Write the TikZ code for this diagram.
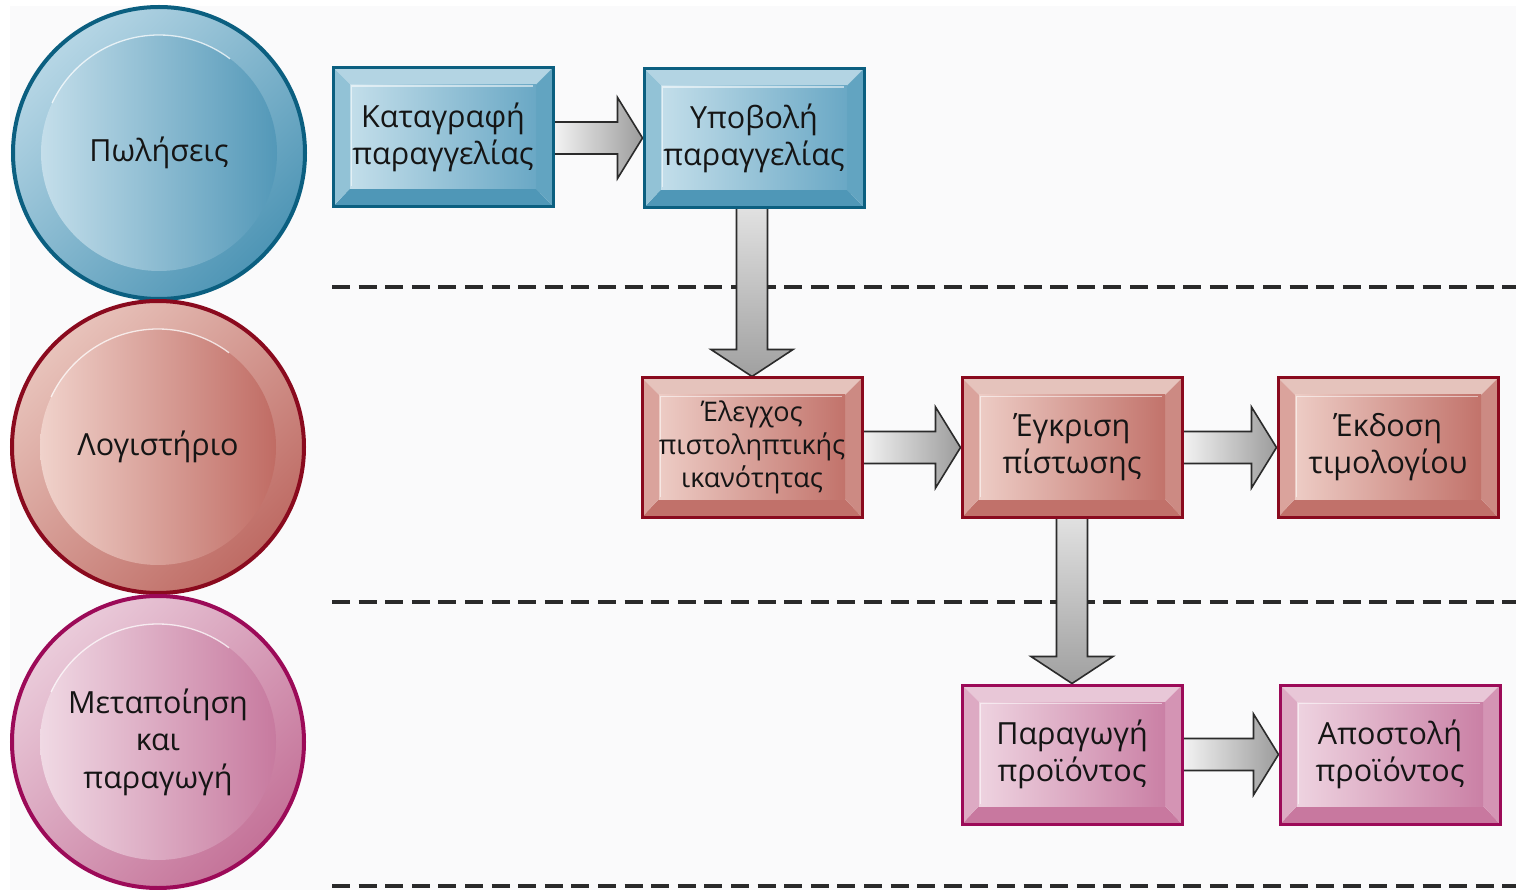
\documentclass[tikz,border=0pt]{standalone}
\usepackage{fontspec}
\setmainfont{Open Sans}
\usetikzlibrary{calc}
\pgfdeclarelayer{canvas}
\pgfdeclarelayer{bg}
\pgfsetlayers{canvas,bg,main}

% page and rules
\definecolor{pagebg}{HTML}{FAFAFB}
\definecolor{sepline}{HTML}{2A2A2A}
\definecolor{inktext}{HTML}{151515}
\definecolor{arrL}{HTML}{F6F6F6}
\definecolor{arrR}{HTML}{9C9C9C}
\definecolor{arrTop}{HTML}{E2E2E2}
\definecolor{arrBot}{HTML}{A0A0A0}
\definecolor{arrEdge}{HTML}{2B2B2B}

% blue palette (sales)
\definecolor{bluD}{HTML}{0B5F80}
\definecolor{bluT}{HTML}{B3D4E3}
\definecolor{bluB}{HTML}{4F97B7}
\definecolor{bluS}{HTML}{92C2D6}
\definecolor{bluE}{HTML}{62A4C1}
\definecolor{bluL}{HTML}{C3DEEA}
\definecolor{bluR}{HTML}{6AA8C5}
\definecolor{bluRT}{HTML}{B6D6E5}
\definecolor{bluRB}{HTML}{4E95B5}
\definecolor{bluCL}{HTML}{C4DEEA}
\definecolor{bluCR}{HTML}{5398B8}

% red palette (accounting)
\definecolor{redD}{HTML}{8A0A1E}
\definecolor{redT}{HTML}{E5C3BC}
\definecolor{redB}{HTML}{C1716A}
\definecolor{redS}{HTML}{DAA39C}
\definecolor{redE}{HTML}{CC8A83}
\definecolor{redL}{HTML}{EDCCC5}
\definecolor{redR}{HTML}{C2736B}
\definecolor{redRT}{HTML}{E8C3BB}
\definecolor{redRB}{HTML}{BE6B64}
\definecolor{redCL}{HTML}{F0D2CB}
\definecolor{redCR}{HTML}{C06C64}

% pink palette (production)
\definecolor{pnkD}{HTML}{9C0A58}
\definecolor{pnkT}{HTML}{E8C7D7}
\definecolor{pnkB}{HTML}{C8789F}
\definecolor{pnkS}{HTML}{DDAAC3}
\definecolor{pnkE}{HTML}{D494B4}
\definecolor{pnkL}{HTML}{EED3E0}
\definecolor{pnkR}{HTML}{CA80A5}
\definecolor{pnkRT}{HTML}{EACBDA}
\definecolor{pnkRB}{HTML}{C47298}
\definecolor{pnkCL}{HTML}{F0D9E4}
\definecolor{pnkCR}{HTML}{C77A9F}

\tikzset{
  stepbox/.style={rectangle, line width=3pt, minimum width=220pt, minimum height=139pt,
    inner sep=0pt, align=center, text=inktext,
    font=\fontsize{30.5}{37}\selectfont},
  smalltext/.style={font=\fontsize{27}{33}\selectfont},
  laneball/.style={circle, line width=4pt, minimum size=292pt, inner sep=0pt,
    align=center, text=inktext, font=\fontsize{30.5}{37.5}\selectfont},
  flowarrow/.style={draw=arrEdge, line width=1.6pt, line join=miter},
  lanesep/.style={draw=sepline, line width=4pt, dash pattern=on 18pt off 8.6pt},
}

% bevelled process box: [extra node options] name, x, y, palette, text
\newcommand\procbox[6][]{%
  \begin{scope}[shift={(#3,#4)}]
    \fill[#5T] (-110,-69.5) -- (110,-69.5) -- (93,-52.5) -- (-93,-52.5) -- cycle;
    \fill[#5B] (-110,69.5) -- (110,69.5) -- (93,51.5) -- (-93,51.5) -- cycle;
    \fill[#5S] (-110,-69.5) -- (-93,-52.5) -- (-93,51.5) -- (-110,69.5) -- cycle;
    \fill[#5E] (110,-69.5) -- (93,-52.5) -- (93,51.5) -- (110,69.5) -- cycle;
    \shade[left color=#5L, right color=#5R] (-93,-52.5) rectangle (93,51.5);
    \draw[white, opacity=0.55, line width=1.4pt] (-91.5,49) -- (-91.5,-51) -- (90,-51);
  \end{scope}
  \node[stepbox, draw=#5D, #1] (#2) at (#3,#4) {#6};
}

% department disc: name, x, y, palette, text
\newcommand\deptball[5]{%
  \shade[top color=#4RT, bottom color=#4RB, shading angle=45] (#2,#3) circle[radius=146];
  \shade[left color=#4CL, right color=#4CR] (#2,#3) circle[radius=118];
  \draw[white, opacity=0.75, line width=1.3pt] (#2,#3) ++(-155:118)
    arc[start angle=-155, end angle=-53, radius=118];
  \node[laneball, draw=#4D] (#1) at (#2,#3) {#5};
}

% block arrows between boxes
\newcommand\harrow[2]{%
  \shadedraw[flowarrow, left color=arrL, right color=arrR]
    ($(#1.east |- #2.west)+(-4,-16)$) -- ($(#2.west)+(-25,-16)$) --
    ($(#2.west)+(-25,-40.5)$) -- (#2.west) -- ($(#2.west)+(-25,40.5)$) --
    ($(#2.west)+(-25,16)$) -- ($(#1.east |- #2.west)+(-4,16)$) -- cycle;
}
\newcommand\varrow[2]{%
  \shadedraw[flowarrow, top color=arrTop, bottom color=arrBot]
    ($(#1.south -| #2.north)+(-15.5,-4)$) -- ($(#2.north)+(-15.5,-27)$) --
    ($(#2.north)+(-41,-27)$) -- (#2.north) -- ($(#2.north)+(41,-27)$) --
    ($(#2.north)+(15.5,-27)$) -- ($(#1.south -| #2.north)+(15.5,-4)$) -- cycle;
}

\begin{document}
\begin{tikzpicture}[x=1pt, y=-1pt]
  % canvas
  \begin{pgfonlayer}{canvas}
    \fill[white] (0,0) rectangle (1516,890);
    \fill[pagebg] (10,6) rectangle (1516,890);
  \end{pgfonlayer}
  \useasboundingbox (0,0) rectangle (1516,890);

  % department discs
  \deptball{sales}{159}{153}{blu}{Πωλήσεις}
  \deptball{acct}{158}{447}{red}{Λογιστήριο}
  \deptball{prod}{158}{742}{pnk}{Μεταποίηση\\και\\παραγωγή}

  % process boxes
  \procbox{record}{443}{137}{blu}{Καταγραφή\\παραγγελίας}
  \procbox{submit}{754}{138}{blu}{Υποβολή\\παραγγελίας}
  \procbox[smalltext]{check}{752}{447.5}{red}{Έλεγχος\\πιστοληπτικής\\ικανότητας}
  \procbox{approve}{1072}{447.5}{red}{Έγκριση\\πίστωσης}
  \procbox{invoice}{1388}{447.5}{red}{Έκδοση\\τιμολογίου}
  \procbox{make}{1072}{754.5}{pnk}{Παραγωγή\\προϊόντος}
  \procbox{ship}{1390}{754.5}{pnk}{Αποστολή\\προϊόντος}

  \begin{pgfonlayer}{bg}
    % lane separators
    \coordinate (sepA1) at (332,287);  \coordinate (sepA2) at (1516,287);
    \coordinate (sepB1) at (332,602);  \coordinate (sepB2) at (1516,602);
    \coordinate (sepC1) at (332,886);  \coordinate (sepC2) at (1516,886);
    \draw[lanesep] (sepA1) -- (sepA2);
    \draw[lanesep] (sepB1) -- (sepB2);
    \draw[lanesep] (sepC1) -- (sepC2);

    % flow
    \harrow{record}{submit}
    \varrow{submit}{check}
    \harrow{check}{approve}
    \harrow{approve}{invoice}
    \varrow{approve}{make}
    \harrow{make}{ship}
  \end{pgfonlayer}
\end{tikzpicture}
\end{document}
